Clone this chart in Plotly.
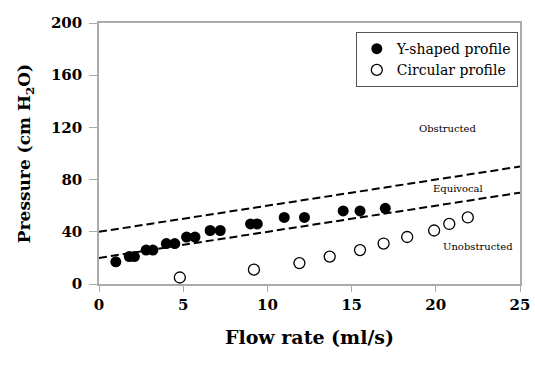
import plotly.graph_objects as go

# Y-shaped profile (filled)
y_flow = [1.0, 1.8, 2.1, 2.8, 3.2, 4.0, 4.5, 5.2, 5.7, 6.6, 7.2, 9.0, 9.4, 11.0, 12.2, 14.5, 15.5, 17.0]
y_press = [17, 21, 21, 26, 26, 31, 31, 36, 36, 41, 41, 46, 46, 51, 51, 56, 56, 58]

# Circular profile (open)
c_flow = [4.8, 9.2, 11.9, 13.7, 15.5, 16.9, 18.3, 19.9, 20.8, 21.9]
c_press = [5, 11, 16, 21, 26, 31, 36, 41, 46, 51]

# Boundary lines
line_x = [0, 25]
upper_y = [40, 90]
lower_y = [20, 70]

zone_labels = ["Obstructed", "Equivocal", "Unobstructed"]
zone_x = [20.7, 21.3, 22.5]
zone_y = [119, 73, 29]

x_ticks = [0, 5, 10, 15, 20, 25]
y_ticks = [0, 40, 80, 120, 160, 200]

serif = "DejaVu Serif"

fig = go.Figure()
fig.add_trace(go.Scatter(x=line_x, y=upper_y, mode="lines", showlegend=False,
                         line=dict(color="black", width=2, dash="8px,4px")))
fig.add_trace(go.Scatter(x=line_x, y=lower_y, mode="lines", showlegend=False,
                         line=dict(color="black", width=2, dash="8px,4px")))
fig.add_trace(go.Scatter(x=y_flow, y=y_press, mode="markers", name="Y-shaped profile",
                         marker=dict(symbol="circle", size=11, color="black",
                                     line=dict(color="black", width=0))))
fig.add_trace(go.Scatter(x=c_flow, y=c_press, mode="markers", name="Circular profile",
                         marker=dict(symbol="circle-open", size=11, color="black",
                                     line=dict(color="black", width=1.3))))

for t, x, y in zip(zone_labels, zone_x, zone_y):
    fig.add_annotation(x=x, y=y, text=t, showarrow=False,
                       font=dict(family=serif, size=10, color="black"))

fig.update_layout(
    width=535, height=371,
    margin=dict(l=99, r=15, t=23, b=87),
    paper_bgcolor="white", plot_bgcolor="white",
    font=dict(family=serif, color="black"),
    legend=dict(x=0.61, y=0.965, xanchor="left", yanchor="top",
                bordercolor="#555", borderwidth=1, bgcolor="white",
                font=dict(family=serif, size=14, color="black"), tracegroupgap=0,
                itemwidth=30),
    xaxis=dict(range=[0, 25], tickvals=x_ticks, showgrid=False, zeroline=False,
               showline=True, linecolor="#aaa", linewidth=1.5, mirror=True,
               ticks="outside", tickcolor="#aaa", ticklen=6, automargin=False,
               tickfont=dict(family=serif, size=15, weight="bold"),
               title=dict(text="<b>Flow rate (ml/s)</b>", standoff=18,
                          font=dict(family=serif, size=19))),
    yaxis=dict(range=[0, 200], tickvals=y_ticks, showgrid=False, zeroline=False,
               showline=True, linecolor="#aaa", linewidth=1.5, mirror=True,
               ticks="outside", tickcolor="#aaa", ticklen=8, automargin=False,
               ticklabelstandoff=4,
               tickfont=dict(family=serif, size=15, weight="bold"),
               title=dict(text="<b>Pressure (cm H<sub>2</sub>O)</b>", standoff=16,
                          font=dict(family=serif, size=17))),
)

fig.write_html("out.html")
